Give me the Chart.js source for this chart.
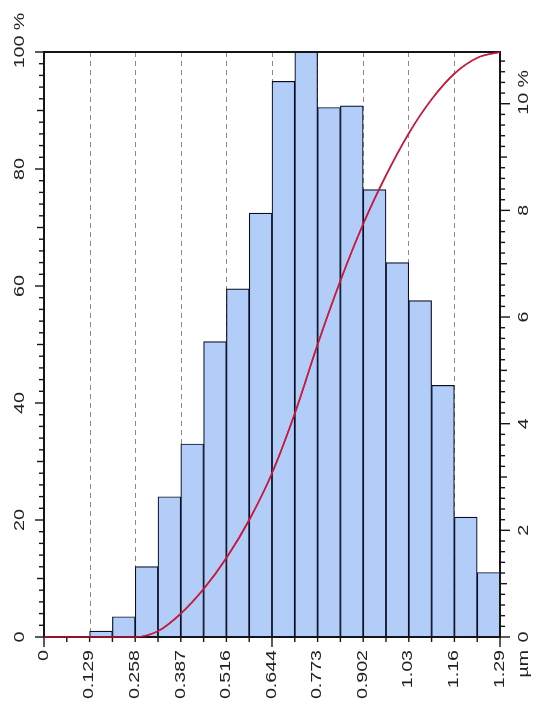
<!DOCTYPE html>
<html>
<head>
<meta charset="utf-8">
<script src="https://cdn.jsdelivr.net/npm/chart.js@4/dist/chart.umd.min.js"></script>
<style>
  html, body { margin: 0; padding: 0; background: #fff; }
  #wrap { width: 542px; height: 713px; }
</style>
</head>
<body>
<div id="wrap"><canvas id="myChart"></canvas></div>
<script>
// bins of the histogram (centres, µm) and their share in %
const binCenters = [0.03225, 0.09675, 0.16125, 0.22575, 0.29025, 0.35475, 0.41925, 0.48375, 0.54825, 0.61275,
  0.67725, 0.74175, 0.80625, 0.87075, 0.93525, 0.99975, 1.06425, 1.12875, 1.19325, 1.25775];
const binValues = [0, 0, 0.11, 0.38, 1.32, 2.63, 3.62, 5.54, 6.53, 7.95,
  10.42, 10.97, 9.93, 9.96, 8.39, 7.02, 6.31, 4.72, 2.25, 1.21];

// cumulative curve, %
const cumX = [0, 0.0645, 0.129, 0.1935, 0.258, 0.3225, 0.387, 0.4515, 0.516, 0.5805, 0.645,
  0.7095, 0.774, 0.8385, 0.903, 0.9675, 1.032, 1.0965, 1.161, 1.2255, 1.29];
const cumY = [0, 0, 0, 0, 0, 1.0, 4.0, 8.2, 13.5, 20.0, 28.0,
  38.2, 50.0, 60.9, 70.6, 78.9, 86.1, 91.9, 96.3, 99.0, 100];

// axis ticks
const xTicks = [0, 0.129, 0.258, 0.387, 0.516, 0.644, 0.773, 0.902, 1.03, 1.16, 1.29];
const xTickLabels = ["0", "0.129", "0.258", "0.387", "0.516", "0.644", "0.773", "0.902", "1.03", "1.16", "1.29"];
const leftTicks = [0, 20, 40, 60, 80, 100];
const rightTicks = [0, 2, 4, 6, 8, 10];

const FONT = "14px 'Liberation Sans', Arial, sans-serif";
const SX = 1.4; // glyphs in the picture are stretched along the text

function vText(ctx, text, x, y, align) {
  ctx.save();
  ctx.translate(x, y);
  ctx.rotate(-Math.PI / 2);
  ctx.scale(SX, 1);
  ctx.textAlign = align;
  ctx.textBaseline = "middle";
  ctx.fillText(text, 0, 0);
  ctx.restore();
}

function line(ctx, x1, y1, x2, y2) {
  ctx.beginPath();
  ctx.moveTo(x1, y1);
  ctx.lineTo(x2, y2);
  ctx.stroke();
}

const gridPlugin = {
  id: "grid",
  beforeDatasetsDraw(chart) {
    const ctx = chart.ctx;
    const a = chart.chartArea;
    const x = chart.scales.x;
    ctx.save();
    ctx.strokeStyle = "#8a8a8a";
    ctx.lineWidth = 1;
    ctx.setLineDash([5, 4]);
    xTicks.forEach((t, i) => {
      if (i === 0 || i === xTicks.length - 1) return;
      const px = Math.round(x.getPixelForValue(t)) + 0.5;
      line(ctx, px, a.top, px, a.bottom);
    });
    ctx.restore();
  }
};

const axesPlugin = {
  id: "axes",
  afterDatasetsDraw(chart) {
    const ctx = chart.ctx;
    const a = chart.chartArea;
    const x = chart.scales.x, yL = chart.scales.yL, yR = chart.scales.yR;
    ctx.save();
    ctx.strokeStyle = "#151515";
    ctx.fillStyle = "#222";
    ctx.lineWidth = 2;
    ctx.strokeRect(a.left, a.top, a.right - a.left, a.bottom - a.top);

    // left ticks
    ctx.lineWidth = 1.4;
    for (let v = 0; v <= 100; v += 2) {
      const py = yL.getPixelForValue(v);
      const len = v % 20 === 0 ? 9 : (v % 10 === 0 ? 7 : 5);
      line(ctx, a.left - len, py, a.left, py);
    }
    // right ticks
    for (let k = 0; k <= 54; k++) {
      const v = k * 0.2;
      const py = yR.getPixelForValue(v);
      const len = k % 10 === 0 ? 10 : (k % 5 === 0 ? 7 : 5);
      line(ctx, a.right, py, a.right + len, py);
    }
    // x ticks
    for (let k = 0; k <= 20; k++) {
      const px = x.getPixelForValue(k * 0.0645);
      const len = k % 10 === 0 ? 10 : 5;
      line(ctx, px, a.bottom, px, a.bottom + len);
    }

    ctx.font = FONT;
    leftTicks.forEach((t) => {
      const py = yL.getPixelForValue(t);
      vText(ctx, String(t), 20, py, "center");
      if (t === 100) {
        const w = ctx.measureText("100").width * SX;
        vText(ctx, " %", 20, py - w / 2, "left");
      }
    });
    rightTicks.forEach((t) => {
      const py = yR.getPixelForValue(t);
      vText(ctx, String(t), a.right + 24, py, "center");
      if (t === 10) {
        const w = ctx.measureText("10").width * SX;
        vText(ctx, " %", a.right + 24, py - w / 2, "left");
      }
    });
    xTicks.forEach((t, i) => {
      vText(ctx, xTickLabels[i], x.getPixelForValue(t), a.bottom + 13, "right");
    });
    vText(ctx, "µm", a.right + 24, a.bottom + 13, "right");
    ctx.restore();
  },
  afterDraw(chart) {
    // the red curve lies on top of the frame in the picture
    const meta = chart.getDatasetMeta(0);
    const ctx = chart.ctx;
    ctx.save();
    meta.dataset.draw(ctx, chart.chartArea);
    ctx.restore();
  }
};

const whiteBg = {
  id: "whiteBg",
  beforeDraw(chart) {
    const ctx = chart.ctx;
    ctx.save();
    ctx.fillStyle = "#fff";
    ctx.fillRect(0, 0, chart.width, chart.height);
    ctx.restore();
  }
};

const ctx = document.getElementById("myChart").getContext("2d");
const myChart = new Chart(ctx, {
  type: "bar",
  data: {
    datasets: [
      {
        type: "line",
        label: "cumulative",
        data: cumX.map((v, i) => ({ x: v, y: cumY[i] })),
        xAxisID: "x",
        yAxisID: "yL",
        borderColor: "rgba(200, 24, 60, 0.9)",
        borderWidth: 1.6,
        pointRadius: 0,
        cubicInterpolationMode: "monotone",
        fill: false,
        clip: 4,
        order: 0,
      },
      {
        type: "bar",
        label: "frequency",
        data: binCenters.map((v, i) => ({ x: v, y: binValues[i] })),
        xAxisID: "x",
        yAxisID: "yR",
        backgroundColor: "rgb(178, 205, 247)",
        borderColor: "rgb(10, 14, 36)",
        borderWidth: 1.2,
        borderSkipped: "start",
        barPercentage: 1,
        categoryPercentage: 1,
        order: 1,
      },
    ],
  },
  options: {
    responsive: true,
    maintainAspectRatio: false,
    animation: false,
    layout: { padding: { left: 44, right: 42, top: 52, bottom: 76 } },
    plugins: { legend: { display: false }, tooltip: { enabled: false } },
    scales: {
      x: { type: "linear", min: 0, max: 1.29, offset: false, display: false, grid: { offset: false } },
      yL: { type: "linear", position: "left", min: 0, max: 100, display: false },
      yR: { type: "linear", position: "right", min: 0, max: 10.97, display: false },
    },
  },
  plugins: [whiteBg, gridPlugin, axesPlugin],
});
</script>
</body>
</html>
